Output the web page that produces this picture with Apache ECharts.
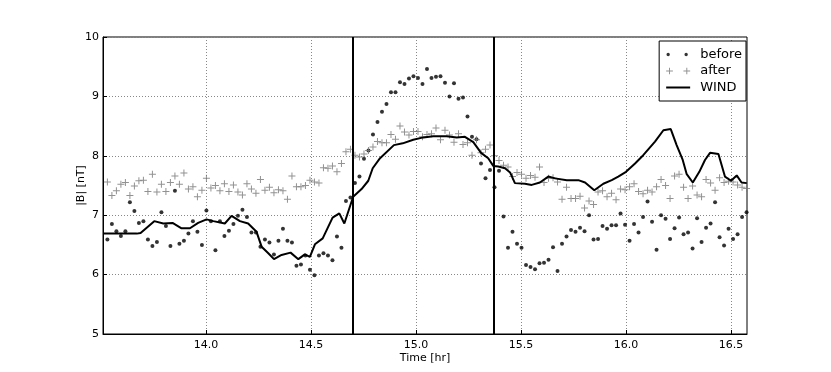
<!DOCTYPE html>
<html lang="en">
<head>
    <meta charset="UTF-8">
    <title>|B| before / after / WIND</title>
    <script src="https://cdn.jsdelivr.net/npm/echarts@6/dist/echarts.min.js"></script>
    <style>
        *{ margin:0; padding:0; }
        body{ background:#fff; }
        #chart{ width:831px; height:372px; }
    </style>
</head>
<body>
<div id="chart"></div>
<script type="text/javascript">
    // sample times: uniform cadence (hours)
    var T0 = 13.5095;
    var DT = 0.02143;

    var beforeVals = [
        7.12, 6.59, 6.85, 6.73, 6.65, 6.73, 7.22, 7.07, 6.87, 6.90,
        6.59, 6.48, 6.55, 7.05, 6.82, 6.48, 7.41, 6.52, 6.57, 6.69,
        6.90, 6.72, 6.50, 7.08, 6.90, 6.41, 6.90, 6.65, 6.74, 6.85,
        6.99, 7.09, 6.97, 6.71, 6.71, 6.47, 6.59, 6.54, 6.34, 6.57,
        6.77, 6.57, 6.54, 6.15, 6.17, 6.32, 6.08, 5.99, 6.32, 6.36,
        6.32, 6.24, 6.64, 6.45, 7.24, 7.30, 7.54, 7.65, 7.95, 8.09,
        8.36, 8.57, 8.74, 8.87, 9.07, 9.07, 9.24, 9.21, 9.30, 9.34,
        9.31, 9.21, 9.46, 9.31, 9.33, 9.34, 9.23, 9.00, 9.22, 8.96,
        8.98, 8.66, 8.32, 8.28, 7.87, 7.62, 7.76, 7.47, 7.75, 6.98,
        6.45, 6.72, 6.52, 6.45, 6.16, 6.13, 6.09, 6.19, 6.20, 6.25,
        6.46, 6.06, 6.52, 6.64, 6.75, 6.72, 6.79, 6.73, 7.00, 6.59,
        6.60, 6.82, 6.77, 6.83, 6.83, 7.03, 6.84, 6.57, 6.85, 6.71,
        6.97, 7.23, 6.89, 6.42, 7.00, 6.94, 6.60, 6.78, 6.96, 6.68,
        6.71, 6.44, 6.95, 6.55, 6.79, 6.86, 7.22, 6.63, 6.49, 6.77,
        6.60, 6.68, 6.97, 7.05
    ];

    var afterVals = [
        7.55, 7.56, 7.33, 7.41, 7.52, 7.55, 7.33, 7.49, 7.58, 7.59,
        7.40, 7.69, 7.39, 7.52, 7.40, 7.55, 7.66, 7.52, 7.71, 7.44,
        7.48, 7.31, 7.42, 7.62, 7.46, 7.50, 7.41, 7.53, 7.40, 7.51,
        7.39, 7.34, 7.53, 7.44, 7.37, 7.60, 7.42, 7.47, 7.38, 7.43,
        7.41, 7.27, 7.66, 7.48, 7.48, 7.50, 7.59, 7.56, 7.54, 7.80,
        7.79, 7.83, 7.73, 7.87, 8.07, 8.11, 8.01, 7.98, 8.03, 8.09,
        8.15, 8.24, 8.22, 8.22, 8.36, 8.28, 8.50, 8.40, 8.35, 8.41,
        8.41, 8.32, 8.36, 8.37, 8.47, 8.27, 8.43, 8.35, 8.23, 8.37,
        8.19, 8.22, 8.01, 8.27, 8.05, 8.11, 8.18, 8.00, 7.92, 7.84,
        7.81, 7.65, 7.72, 7.69, 7.62, 7.67, 7.64, 7.81, 7.55, 7.62,
        7.63, 7.56, 7.27, 7.47, 7.28, 7.28, 7.32, 7.12, 7.24, 7.18,
        7.39, 7.41, 7.31, 7.37, 7.26, 7.44, 7.43, 7.48, 7.53, 7.40,
        7.36, 7.42, 7.39, 7.48, 7.60, 7.50, 7.28, 7.66, 7.69, 7.47,
        7.28, 7.49, 7.34, 7.31, 7.60, 7.54, 7.42, 7.63, 7.55, 7.57,
        7.56, 7.51, 7.47, 7.45
    ];

    var windTimes = [
        13.514, 13.671, 13.689, 13.754, 13.797, 13.841, 13.884, 13.924, 13.963, 14.003,
        14.035, 14.090, 14.122, 14.162, 14.201, 14.241, 14.265, 14.297, 14.324, 14.360,
        14.403, 14.440, 14.471, 14.495, 14.519, 14.556, 14.603, 14.635, 14.659, 14.701,
        14.741, 14.773, 14.794, 14.829, 14.895, 14.937, 14.987, 15.035, 15.082, 15.146,
        15.194, 15.233, 15.273, 15.310, 15.344, 15.368, 15.392, 15.424, 15.448, 15.471,
        15.519, 15.551, 15.590, 15.630, 15.662, 15.718, 15.773, 15.805, 15.849, 15.892,
        15.932, 15.963, 16.000, 16.043, 16.082, 16.138, 16.178, 16.213, 16.241, 16.270,
        16.289, 16.318, 16.349, 16.376, 16.400, 16.440, 16.471, 16.500, 16.527, 16.550,
        16.575
    ];
    var windVals = [
        6.69, 6.69, 6.70, 6.90, 6.86, 6.87, 6.78, 6.78, 6.87, 6.93,
        6.90, 6.86, 6.99, 6.90, 6.86, 6.72, 6.47, 6.36, 6.26, 6.33,
        6.37, 6.26, 6.34, 6.30, 6.51, 6.61, 6.96, 7.03, 6.86, 7.31,
        7.44, 7.58, 7.79, 7.96, 8.18, 8.21, 8.27, 8.31, 8.33, 8.33,
        8.31, 8.32, 8.23, 8.05, 7.96, 7.83, 7.82, 7.79, 7.72, 7.54,
        7.53, 7.51, 7.55, 7.65, 7.62, 7.59, 7.59, 7.55, 7.42, 7.53,
        7.59, 7.65, 7.73, 7.87, 8.01, 8.24, 8.43, 8.45, 8.18, 7.93,
        7.69, 7.55, 7.73, 7.93, 8.05, 8.03, 7.65, 7.58, 7.67, 7.55,
        7.54
    ];

    var xTicks = [14.0, 14.5, 15.0, 15.5, 16.0, 16.5];
    var eventTimes = [14.70, 15.367];

    var beforeData = [], afterData = [], windData = [];
    for (var i = 0; i < beforeVals.length; i++) {
        beforeData.push([T0 + i * DT, beforeVals[i]]);
    }
    for (var i = 0; i < afterVals.length; i++) {
        afterData.push([T0 + i * DT, afterVals[i]]);
    }
    for (var i = 0; i < windTimes.length; i++) {
        windData.push([windTimes[i], windVals[i]]);
    }

    var FONT = 'DejaVu Sans';
    var plusPath = 'path://M3,0H4V3H7V4H4V7H3V4H0V3H3Z';
    var dotsIcon = 'path://M0,0h0.01v0.01h-0.01z M24,10h0.01v0.01h-0.01z M0.3,5a1.7,1.7 0 1,0 3.4,0a1.7,1.7 0 1,0 -3.4,0 M18.3,5a1.7,1.7 0 1,0 3.4,0a1.7,1.7 0 1,0 -3.4,0';
    var plusIcon = 'path://M0,0h0.01v0.01h-0.01z M24,10h0.01v0.01h-0.01z M2.5,1.5H3.5V4.5H6.5V5.5H3.5V8.5H2.5V5.5H-0.5V4.5H2.5Z M20.5,1.5H21.5V4.5H24.5V5.5H21.5V8.5H20.5V5.5H17.5V4.5H20.5Z';
    var lineIcon = 'path://M0,0h0.01v0.01h-0.01z M24,10h0.01v0.01h-0.01z M0,4H24V6H0Z';

    var chart = echarts.init(document.getElementById('chart'));
    var option = {
        animation: false,
        backgroundColor: '#fff',
        textStyle: { fontFamily: FONT },
        grid: {
            left: 103, right: 84, top: 37, bottom: 38,
            show: true, borderColor: '#000', borderWidth: 1
        },
        legend: {
            orient: 'vertical',
            right: 85, top: 41,
            padding: [7, 4, 7, 7],
            itemGap: 3.5,
            itemWidth: 24, itemHeight: 10,
            backgroundColor: '#fff',
            borderColor: '#000', borderWidth: 1, borderRadius: 0,
            textStyle: { fontFamily: FONT, fontSize: 13, color: '#000', padding: [0, 0, 0, 5] },
            data: [
                { name: 'before', icon: dotsIcon, itemStyle: { color: '#000' } },
                { name: 'after', icon: plusIcon, itemStyle: { color: '#777' } },
                { name: 'WIND', icon: lineIcon, itemStyle: { color: '#000' } }
            ]
        },
        xAxis: {
            type: 'value',
            min: 13.51, max: 16.576,
            name: 'Time [hr]',
            nameLocation: 'middle',
            nameGap: 19,
            nameMoveOverlap: false,
            nameTextStyle: { fontFamily: FONT, fontSize: 11, color: '#000' },
            axisLine: { lineStyle: { color: '#000', width: 1 } },
            axisTick: { inside: true, length: 4, lineStyle: { color: '#000' }, customValues: xTicks },
            axisLabel: {
                fontFamily: FONT, fontSize: 11, color: '#000', margin: 6,
                customValues: xTicks,
                formatter: function (v) { return v.toFixed(1); }
            },
            splitLine: { show: true, lineStyle: { color: '#888', type: [1, 2], width: 1 } }
        },
        yAxis: {
            type: 'value',
            min: 5, max: 10, interval: 1,
            name: '|B| [nT]',
            nameLocation: 'middle',
            nameGap: 16,
            nameMoveOverlap: false,
            nameTextStyle: { fontFamily: FONT, fontSize: 11, color: '#000' },
            axisLine: { show: true, lineStyle: { color: '#000', width: 1 } },
            axisTick: { show: true, inside: true, length: 4, lineStyle: { color: '#000' } },
            axisLabel: { fontFamily: FONT, fontSize: 11, color: '#000', margin: 4 },
            splitLine: { show: true, lineStyle: { color: '#888', type: [1, 2], width: 1 } }
        },
        series: [
            {
                name: 'before',
                type: 'scatter',
                symbol: 'circle',
                symbolSize: 4,
                itemStyle: { color: '#000' },
                data: beforeData
            },
            {
                name: 'after',
                type: 'scatter',
                symbol: plusPath,
                symbolSize: 7,
                itemStyle: { color: '#777' },
                data: afterData
            },
            {
                name: 'WIND',
                type: 'line',
                showSymbol: false,
                symbol: 'none',
                lineStyle: { color: '#000', width: 2 },
                itemStyle: { color: '#000' },
                data: windData,
                markLine: {
                    silent: true,
                    symbol: 'none',
                    label: { show: false },
                    lineStyle: { color: '#000', width: 2, type: 'solid' },
                    data: eventTimes.map(function (t) { return { xAxis: t }; })
                }
            }
        ]
    };
    chart.setOption(option);
</script>
</body>
</html>
